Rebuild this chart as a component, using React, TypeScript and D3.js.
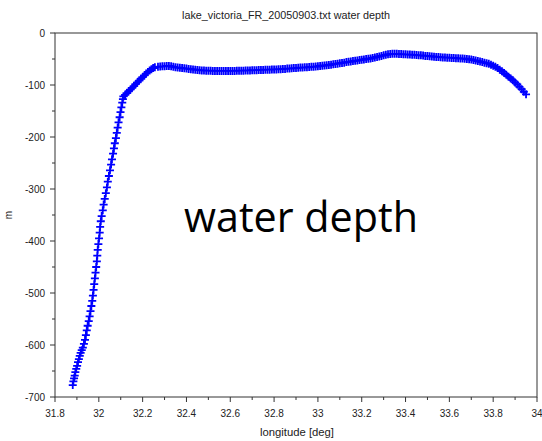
import React from "react";
import * as d3 from "d3";

const title = "lake_victoria_FR_20050903.txt water depth";
const xLabel = "longitude [deg]";
const yLabel = "m";
const overlayText = "water depth";

const xTicks = [31.8, 32, 32.2, 32.4, 32.6, 32.8, 33, 33.2, 33.4, 33.6, 33.8, 34];
const xMinorTicks = [31.9, 32.1, 32.3, 32.5, 32.7, 32.9, 33.1, 33.3, 33.5, 33.7, 33.9];
const yTicks = [0, -100, -200, -300, -400, -500, -600, -700];
const yMinorTicks = [-50, -150, -250, -350, -450, -550, -650];

const longitude = [
  31.881, 31.884, 31.887, 31.890, 31.893, 31.897, 31.901, 31.905, 31.909, 31.913,
  31.917, 31.922, 31.927, 31.932, 31.937, 31.941, 31.945, 31.949, 31.954, 31.958,
  31.962, 31.966, 31.970, 31.973, 31.976, 31.979, 31.982, 31.985, 31.988, 31.991,
  31.993, 31.995, 31.998, 32.001, 32.004, 32.006, 32.009, 32.013, 32.018, 32.022,
  32.027, 32.032, 32.037, 32.041, 32.046, 32.051, 32.056, 32.060, 32.065, 32.069,
  32.073, 32.078, 32.082, 32.086, 32.090, 32.095, 32.099, 32.103, 32.107, 32.110,
  32.112,
  32.120, 32.128, 32.136, 32.144, 32.152, 32.160, 32.168, 32.176, 32.184, 32.192,
  32.200, 32.208, 32.216, 32.224, 32.232, 32.240, 32.248, 32.256,
  32.27, 32.28, 32.29, 32.30, 32.31, 32.32, 32.33, 32.34, 32.35, 32.36,
  32.37, 32.38, 32.39, 32.40, 32.41, 32.42, 32.43, 32.44, 32.45, 32.46,
  32.47, 32.48, 32.49, 32.50, 32.51, 32.52, 32.53, 32.54, 32.55, 32.56,
  32.57, 32.58, 32.59, 32.60, 32.61, 32.62, 32.63, 32.64, 32.65, 32.66,
  32.67, 32.68, 32.69, 32.70, 32.71, 32.72, 32.73, 32.74, 32.75, 32.76,
  32.77, 32.78, 32.79, 32.80, 32.81, 32.82, 32.83, 32.84, 32.85, 32.86,
  32.87, 32.88, 32.89, 32.90, 32.91, 32.92, 32.93, 32.94, 32.95, 32.96,
  32.97, 32.98, 32.99, 33.00, 33.01, 33.02, 33.03, 33.04, 33.05, 33.06,
  33.07, 33.08, 33.09, 33.10, 33.11, 33.12, 33.13, 33.14, 33.15, 33.16,
  33.17, 33.18, 33.19, 33.20, 33.21, 33.22, 33.23, 33.24, 33.25, 33.26,
  33.27, 33.28, 33.29, 33.30, 33.31, 33.32, 33.33, 33.34, 33.35, 33.36,
  33.37, 33.38, 33.39, 33.40, 33.41, 33.42, 33.43, 33.44, 33.45, 33.46,
  33.47, 33.48, 33.49, 33.50, 33.51, 33.52, 33.53, 33.54, 33.55, 33.56,
  33.57, 33.58, 33.59, 33.60, 33.61, 33.62, 33.63, 33.64, 33.65, 33.66,
  33.67, 33.68, 33.69, 33.70, 33.71, 33.72, 33.73, 33.74, 33.75, 33.76,
  33.77, 33.78, 33.79, 33.80, 33.81, 33.82, 33.83, 33.84, 33.85, 33.86,
  33.87, 33.88, 33.89, 33.90, 33.91, 33.92, 33.93, 33.94, 33.95,
];

const depth = [
  -677, -670, -664, -659, -652, -646, -640, -633, -627, -621,
  -615, -610, -605, -598, -590, -581, -572, -563, -554, -545,
  -535, -525, -515, -505, -494, -483, -472, -461, -450, -439,
  -428, -417, -406, -395, -384, -373, -362, -352, -341, -330,
  -319, -308, -297, -286, -275, -264, -253, -243, -232, -222,
  -212, -202, -192, -182, -172, -162, -152, -143, -134, -127,
  -122,
  -119, -115.5, -112, -109, -105.5, -102, -98.5, -95, -91.5, -88,
  -85, -81.5, -78, -75, -72, -69.5, -67.5, -66,
  -65, -64.5, -64, -64, -63.5, -63.5, -64, -65, -66, -66.5,
  -67, -67.5, -68, -68.5, -69, -69.5, -70, -70.5, -71, -71.5,
  -72, -72, -72.5, -72.5, -72.5, -73, -73, -73, -73, -73,
  -73, -73, -73, -73, -73, -73, -72.5, -72.5, -72.5, -72.5,
  -72, -72, -72, -71.5, -71.5, -71.5, -71, -71, -71, -70.5,
  -70.5, -70.5, -70, -70, -70, -69.5, -69.5, -69, -69, -68.5,
  -68.5, -68, -67.5, -67.5, -67, -66.5, -66.5, -66, -66, -65.5,
  -65, -65, -64.5, -64, -63.5, -63, -62.5, -62, -61.5, -61,
  -60, -59.5, -59, -58, -57.5, -57, -56, -55.5, -55, -54,
  -53.5, -53, -52, -51.5, -51, -50, -49.5, -49, -48, -47,
  -46, -45, -44, -43, -42, -41, -40.5, -40, -40, -40,
  -40.5, -40.5, -41, -41, -41.5, -41.5, -42, -42, -42.5, -43,
  -43, -43.5, -44, -44, -44.5, -45, -45.5, -46, -46, -46.5,
  -47, -47, -47.5, -47.5, -48, -48, -48.5, -48.5, -49, -49,
  -49.5, -50, -50.5, -51, -52, -53, -54, -55, -56, -57,
  -58, -59, -61, -63, -65, -67.5, -70.5, -73.5, -77, -80.5,
  -84, -87.5, -91, -95, -99, -103.5, -108, -113, -118,
];

const W = 542;
const H = 441;
const L = 55, R = 537, T = 33, B = 397;

export default function App() {
  const x = d3.scaleLinear().domain([31.8, 34]).range([L, R]);
  const y = d3.scaleLinear().domain([-700, 0]).range([B, T]);
  const pts = longitude.map((lon, i) => [x(lon), y(depth[i])] as [number, number]);
  const line = d3.line()(pts) || "";
  const markers = pts
    .map(([px, py]) => `M${px - 4},${py}h8M${px},${py - 4}v8`)
    .join("");
  const axisColor = "#333";
  const font = "'Liberation Sans', Arial, sans-serif";
  return (
    <svg
      width={W}
      height={H}
      style={{ position: "absolute", left: 0, top: 0, background: "#fff" }}
    >
      <rect x={0} y={0} width={W} height={H} fill="#fff" />
      <text x={286} y={18.5} fontFamily={font} fontSize={10} fill="#222" textAnchor="middle" textLength={208} lengthAdjust="spacingAndGlyphs">
        {title}
      </text>
      <rect x={L} y={T} width={R - L} height={B - T} fill="none" stroke={axisColor} strokeWidth={1} />
      {yTicks.map((t) => (
        <g key={"y" + t}>
          <line x1={L - 5} x2={L} y1={y(t)} y2={y(t)} stroke={axisColor} />
          <text x={L - 10} y={y(t) + 3.5} fontFamily={font} fontSize={10} fill="#222" textAnchor="end">
            {t}
          </text>
        </g>
      ))}
      {yMinorTicks.map((t) => (
        <line key={"ym" + t} x1={L - 3} x2={L} y1={y(t)} y2={y(t)} stroke={axisColor} />
      ))}
      {xTicks.map((t) => (
        <g key={"x" + t}>
          <line x1={x(t)} x2={x(t)} y1={B} y2={B + 5} stroke={axisColor} />
          <text x={x(t)} y={417} fontFamily={font} fontSize={10} fill="#222" textAnchor="middle">
            {t}
          </text>
        </g>
      ))}
      {xMinorTicks.map((t) => (
        <line key={"xm" + t} x1={x(t)} x2={x(t)} y1={B} y2={B + 3} stroke={axisColor} />
      ))}
      <text x={297} y={436} fontFamily={font} fontSize={10} fill="#222" textAnchor="middle" textLength={74} lengthAdjust="spacingAndGlyphs">
        {xLabel}
      </text>
      <text transform="translate(12,215) rotate(-90)" fontFamily={font} fontSize={10} fill="#222" textAnchor="middle">
        {yLabel}
      </text>
      <path d={line} fill="none" stroke="#0000ff" strokeWidth={1} />
      <path d={markers} fill="none" stroke="#0000ff" strokeWidth={1.8} />
      <text x={184} y={232} fontFamily="'Open Sans', Lato, sans-serif" fontSize={42} fill="#000" textLength={234} lengthAdjust="spacingAndGlyphs">
        {overlayText}
      </text>
    </svg>
  );
}
